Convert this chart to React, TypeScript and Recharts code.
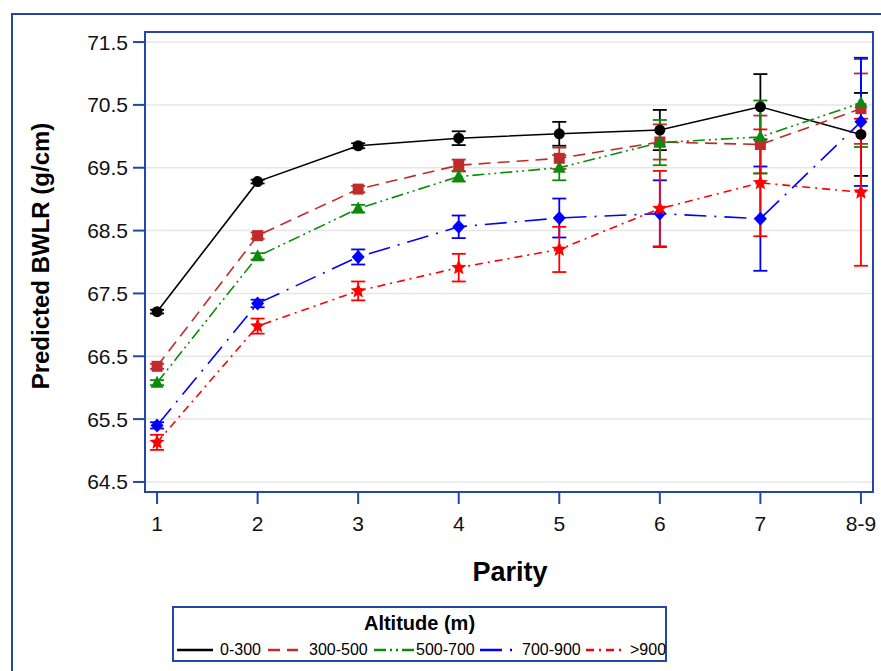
import React from "react";
import {
  ComposedChart,
  Line,
  XAxis,
  YAxis,
  CartesianGrid,
  ErrorBar,
  ReferenceArea,
} from "recharts";

const parity = [1, 2, 3, 4, 5, 6, 7, 8];
const parityLabels = ["1", "2", "3", "4", "5", "6", "7", "8-9"];
const yTicks = [64.5, 65.5, 66.5, 67.5, 68.5, 69.5, 70.5, 71.5];

const alt0 = [67.21, 69.28, 69.85, 69.97, 70.04, 70.1, 70.47, 70.03];
const err0 = [0.03, 0.03, 0.04, 0.11, 0.19, 0.32, 0.52, 0.66];
const alt1 = [66.34, 68.42, 69.16, 69.54, 69.65, 69.91, 69.87, 70.44];
const err1 = [0.04, 0.05, 0.05, 0.09, 0.17, 0.28, 0.46, 0.56];
const alt2 = [66.08, 68.09, 68.85, 69.36, 69.5, 69.9, 69.99, 70.53];
const err2 = [0.04, 0.05, 0.06, 0.08, 0.2, 0.36, 0.58, 0.7];
const alt3 = [65.4, 67.34, 68.08, 68.56, 68.7, 68.77, 68.69, 70.23];
const err3 = [0.05, 0.06, 0.12, 0.18, 0.31, 0.53, 0.83, 1.02];
const alt4 = [65.13, 66.98, 67.54, 67.91, 68.2, 68.85, 69.26, 69.11];
const err4 = [0.12, 0.12, 0.15, 0.22, 0.36, 0.6, 0.85, 1.17];

const FONT = "'Liberation Sans', Arial, sans-serif";
const FRAME = "#2446a8";

const data = parity.map((p, i) => ({
  parity: p,
  a0: alt0[i], e0: err0[i],
  a1: alt1[i], e1: err1[i],
  a2: alt2[i], e2: err2[i],
  a3: alt3[i], e3: err3[i],
  a4: alt4[i], e4: err4[i],
}));

const circleDot = (color: string) => (props: any) => {
  const { cx, cy, index } = props;
  return <circle key={`c-${index}`} cx={cx} cy={cy} r={5.5} fill={color} />;
};

const squareDot = (color: string) => (props: any) => {
  const { cx, cy, index } = props;
  return <rect key={`s-${index}`} x={cx - 5.5} y={cy - 5.5} width={11} height={11} fill={color} />;
};

const triangleDot = (color: string) => (props: any) => {
  const { cx, cy, index } = props;
  return (
    <path
      key={`t-${index}`}
      d={`M${cx},${cy - 7} L${cx + 6.5},${cy + 5} L${cx - 6.5},${cy + 5} Z`}
      fill={color}
    />
  );
};

const diamondDot = (color: string) => (props: any) => {
  const { cx, cy, index } = props;
  return (
    <path
      key={`d-${index}`}
      d={`M${cx},${cy - 7} L${cx + 6.5},${cy} L${cx},${cy + 7} L${cx - 6.5},${cy} Z`}
      fill={color}
    />
  );
};

const starDot = (color: string) => (props: any) => {
  const { cx, cy, index } = props;
  const pts: string[] = [];
  for (let k = 0; k < 10; k++) {
    const r = k % 2 === 0 ? 8 : 3.6;
    const a = -Math.PI / 2 + (k * Math.PI) / 5;
    pts.push(`${cx + r * Math.cos(a)},${cy + r * Math.sin(a)}`);
  }
  return <polygon key={`st-${index}`} points={pts.join(" ")} fill={color} />;
};

// legend sample x, sample width, text x (inside the legend box)
const series = [
  { key: "a0", err: "e0", name: "0-300", color: "#000000", dash: undefined, dot: circleDot, lx: 3, lw: 36, tx: 46 },
  { key: "a1", err: "e1", name: "300-500", color: "#c22b2b", dash: "12 7", dot: squareDot, lx: 94, lw: 30, tx: 135 },
  { key: "a2", err: "e2", name: "500-700", color: "#0b8a0b", dash: "12 4 2 4 2 4", dot: triangleDot, lx: 200, lw: 40, tx: 242 },
  { key: "a3", err: "e3", name: "700-900", color: "#0000ff", dash: "22 8 2 8", dot: diamondDot, lx: 306, lw: 36, tx: 348 },
  { key: "a4", err: "e4", name: ">900", color: "#ff0000", dash: "8 5 2 5", dot: starDot, lx: 412, lw: 35, tx: 456 },
];

export default function App() {
  return (
    <div
      style={{
        position: "fixed",
        left: 0,
        top: 0,
        width: 881,
        height: 671,
        overflow: "hidden",
        background: "#fff",
        fontFamily: FONT,
      }}
    >
      <div
        style={{
          position: "absolute",
          left: 11,
          top: 13,
          width: 1000,
          height: 1000,
          border: `2px solid ${FRAME}`,
        }}
      />
      <div style={{ position: "absolute", left: 0, top: 0 }}>
        <ComposedChart
          width={881}
          height={671}
          data={data}
          margin={{ top: 32, right: 8, bottom: 139, left: 85 }}
        >
          <CartesianGrid vertical={false} stroke="#e6e6e6" strokeWidth={1.5} />
          <XAxis
            dataKey="parity"
            type="number"
            domain={[0.88, 8.12]}
            ticks={parity}
            tickFormatter={(v: number) => parityLabels[v - 1]}
            height={40}
            tickSize={12}
            tickMargin={12}
            axisLine={{ stroke: FRAME, strokeWidth: 2 }}
            tickLine={{ stroke: FRAME, strokeWidth: 2 }}
            tick={{ fill: "#111", fontSize: 21, fontFamily: FONT }}
            interval={0}
          />
          <YAxis
            type="number"
            domain={[64.34, 71.66]}
            ticks={yTicks}
            tickFormatter={(v: number) => v.toFixed(1)}
            width={60}
            tickSize={12}
            tickMargin={5}
            axisLine={{ stroke: FRAME, strokeWidth: 2 }}
            tickLine={{ stroke: FRAME, strokeWidth: 2 }}
            tick={{ fill: "#111", fontSize: 21, fontFamily: FONT }}
            interval={0}
          />
          {series.map((s) => (
            <Line
              key={s.key}
              dataKey={s.key}
              name={s.name}
              stroke={s.color}
              strokeWidth={1.6}
              strokeDasharray={s.dash}
              dot={s.dot(s.color)}
              activeDot={false}
              isAnimationActive={false}
            >
              <ErrorBar
                dataKey={s.err}
                direction="y"
                width={7}
                stroke={s.color}
                strokeWidth={1.8}
                isAnimationActive={false}
              />
            </Line>
          ))}
          <ReferenceArea
            x1={0.88}
            x2={8.12}
            y1={64.34}
            y2={71.66}
            fill="none"
            stroke={FRAME}
            strokeWidth={2}
            ifOverflow="visible"
          />
        </ComposedChart>
      </div>
      <div
        style={{
          position: "absolute",
          left: 0,
          top: 557,
          width: 1020,
          textAlign: "center",
          fontWeight: "bold",
          fontSize: 27,
          color: "#000",
        }}
      >
        Parity
      </div>
      <div
        style={{
          position: "absolute",
          left: 41,
          top: 256,
          transform: "translate(-50%, -50%) rotate(-90deg)",
          whiteSpace: "nowrap",
          fontWeight: "bold",
          fontSize: 24,
          color: "#000",
        }}
      >
        Predicted BWLR (g/cm)
      </div>
      <div
        style={{
          position: "absolute",
          left: 172,
          top: 606,
          width: 491,
          height: 52,
          border: `2px solid ${FRAME}`,
        }}
      >
        <div
          style={{
            textAlign: "center",
            fontWeight: "bold",
            fontSize: 20,
            lineHeight: "22px",
            marginTop: 4,
          }}
        >
          Altitude (m)
        </div>
        {series.map((s) => (
          <React.Fragment key={s.key}>
            <svg
              width={s.lw}
              height={10}
              style={{ position: "absolute", left: s.lx, top: 37 }}
            >
              <line
                x1={0}
                y1={5}
                x2={s.lw}
                y2={5}
                stroke={s.color}
                strokeWidth={2.5}
                strokeDasharray={s.dash}
              />
            </svg>
            <span
              style={{
                position: "absolute",
                left: s.tx,
                top: 32,
                fontSize: 16,
                lineHeight: "20px",
                whiteSpace: "nowrap",
              }}
            >
              {s.name}
            </span>
          </React.Fragment>
        ))}
      </div>
    </div>
  );
}
